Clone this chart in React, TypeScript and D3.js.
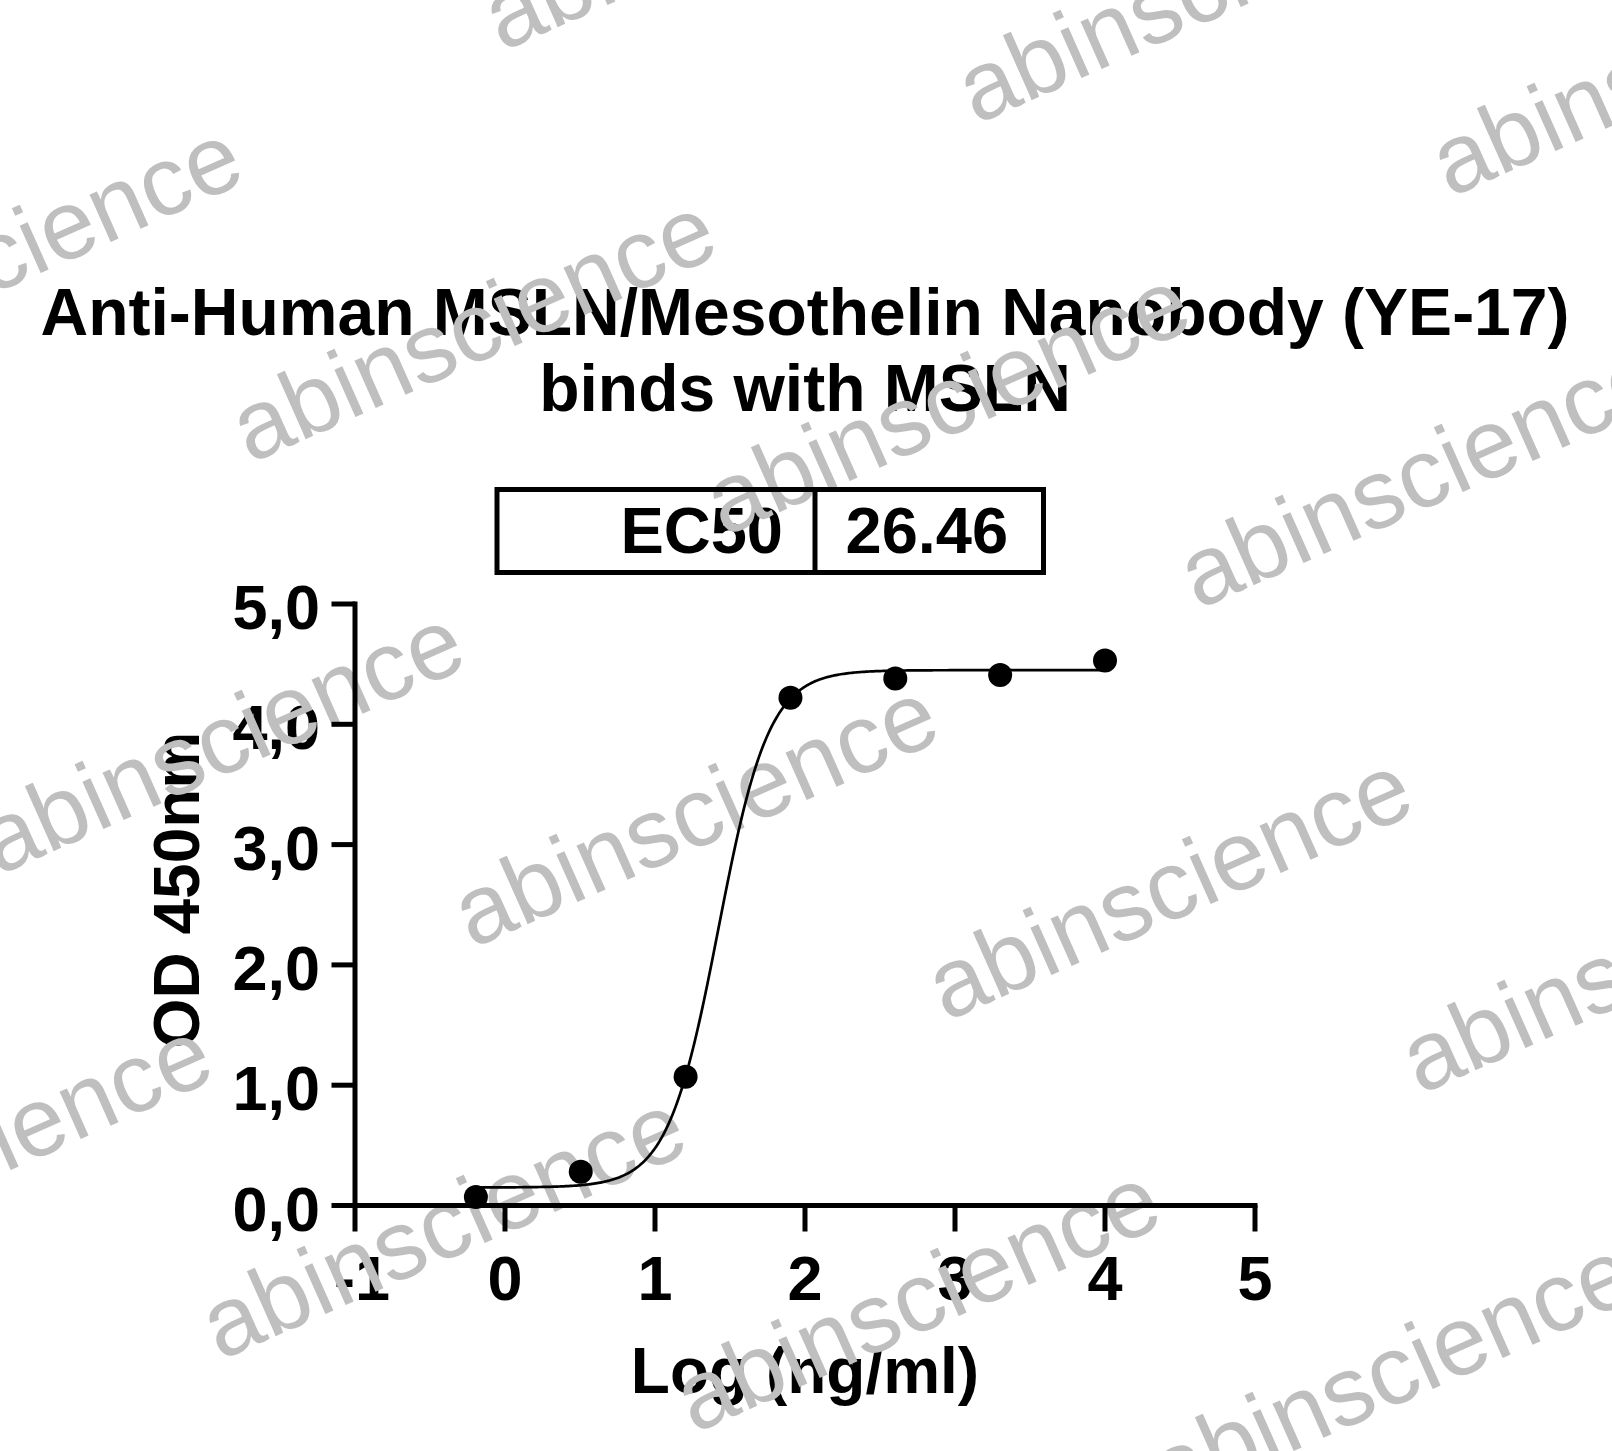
import React from "react";
import * as d3 from "d3";

// ---- data ----
const logConc = [-0.194, 0.505, 1.204, 1.903, 2.602, 3.301, 4.0];
const od450 = [0.07, 0.28, 1.07, 4.22, 4.38, 4.41, 4.53];
const xTicks = [-1, 0, 1, 2, 3, 4, 5];
const yTicks = [0, 1, 2, 3, 4, 5];
const titleLines = ["Anti-Human MSLN/Mesothelin Nanobody (YE-17)", "binds with MSLN"];
const ec50Label = "EC50";
const ec50Value = 26.46;
// 4PL fit parameters
const fitBottom = 0.15;
const fitTop = 4.45;
const fitHill = 2.57;
const watermarkText = "abinscience";

const W = 1612;
const H = 1451;
const FONT = "'Liberation Sans', Arial, Helvetica, sans-serif";

export default function App() {
  const x = d3.scaleLinear().domain([-1, 5]).range([355, 1255]);
  const y = d3.scaleLinear().domain([0, 5]).range([1205.5, 604]);
  const logEC50 = Math.log10(ec50Value);
  const model = (lx: number) =>
    fitBottom + (fitTop - fitBottom) / (1 + Math.pow(10, (logEC50 - lx) * fitHill));
  const xMin = d3.min(logConc) as number;
  const xMax = d3.max(logConc) as number;
  const curvePts: [number, number][] = d3
    .range(0, 401)
    .map((i) => xMin + ((xMax - xMin) * i) / 400)
    .map((lx) => [lx, model(lx)]);
  const line = d3
    .line<[number, number]>()
    .x((d) => x(d[0]))
    .y((d) => y(d[1]))
    .curve(d3.curveLinear);

  const fmt = (v: number) => d3.format(".1f")(v).replace(".", ",");

  // watermark lattice
  const A0 = [946, 1022];
  const U = [474, 73];
  const V = [-252, 412];
  const marks: [number, number][] = [];
  for (let i = -4; i <= 4; i++) {
    for (let j = -4; j <= 4; j++) {
      const ax = A0[0] + i * U[0] + j * V[0];
      const ay = A0[1] + i * U[1] + j * V[1];
      if (ax > -600 && ax < W + 50 && ay > -100 && ay < H + 300) marks.push([ax, ay]);
    }
  }

  const axisY = y(0);
  const axisX = x(-1);

  return (
    <svg
      width={W}
      height={H}
      viewBox={`0 0 ${W} ${H}`}
      style={{ position: "absolute", left: 0, top: 0, display: "block", background: "#fff" }}
      fontFamily={FONT}
    >
      <rect x={0} y={0} width={W} height={H} fill="#fff" />
      {/* texts (under watermark) */}
      <g fontWeight="bold" fontSize={66} textAnchor="middle" fill="#000">
        <text x={805} y={335}>{titleLines[0]}</text>
        <text x={805} y={411}>{titleLines[1]}</text>
      </g>
      <text x={783} y={553} fontSize={65} fontWeight="bold" textAnchor="end">{ec50Label}</text>
      <text x={845.5} y={553} fontSize={65} fontWeight="bold" textAnchor="start">{ec50Value.toFixed(2)}</text>
      <g fontWeight="bold" fontSize={63} fill="#000">
        {yTicks.map((t) => (
          <text key={"yl" + t} x={320} y={y(t) + 25} textAnchor="end">{fmt(t)}</text>
        ))}
        {xTicks.map((t) => (
          <text key={"xl" + t} x={x(t) + (t < 0 ? 7 : 0)} y={1300} textAnchor="middle">{String(t)}</text>
        ))}
      </g>
      <text x={805} y={1393} fontSize={64} fontWeight="bold" textAnchor="middle">Log (ng/ml)</text>
      <text transform="translate(199,890) rotate(-90)" fontSize={64} fontWeight="bold" textAnchor="middle">OD 450nm</text>

      {/* watermarks */}
      <g fill="#bfbfbf" fontSize={98} fontFamily={FONT}>
        {marks.map(([ax, ay], k) => (
          <text key={"wm" + k} transform={`translate(${ax},${ay}) rotate(-24)`}>{watermarkText}</text>
        ))}
      </g>

      {/* lines and marks (above watermark) */}
      <g>
        <rect x={497} y={489.5} width={546.5} height={83} fill="none" stroke="#000" strokeWidth={5} />
        <line x1={815} x2={815} y1={489.5} y2={572.5} stroke="#000" strokeWidth={5} />
      </g>
      <g stroke="#000" strokeWidth={5} fill="none">
        <line x1={axisX} x2={axisX} y1={axisY + 2.5} y2={y(5) - 2.5} />
        <line x1={axisX - 2.5} x2={x(5) + 2.5} y1={axisY} y2={axisY} />
        {yTicks.map((t) => (
          <line key={"yt" + t} x1={axisX} x2={axisX - 23.5} y1={y(t)} y2={y(t)} />
        ))}
        {xTicks.map((t) => (
          <line key={"xt" + t} x1={x(t)} x2={x(t)} y1={axisY} y2={axisY + 26} />
        ))}
      </g>
      <path d={line(curvePts) || ""} fill="none" stroke="#000" strokeWidth={2.7} />
      {logConc.map((lx, i) => (
        <circle key={"p" + i} cx={x(lx)} cy={y(od450[i])} r={12} fill="#000" />
      ))}
    </svg>
  );
}
